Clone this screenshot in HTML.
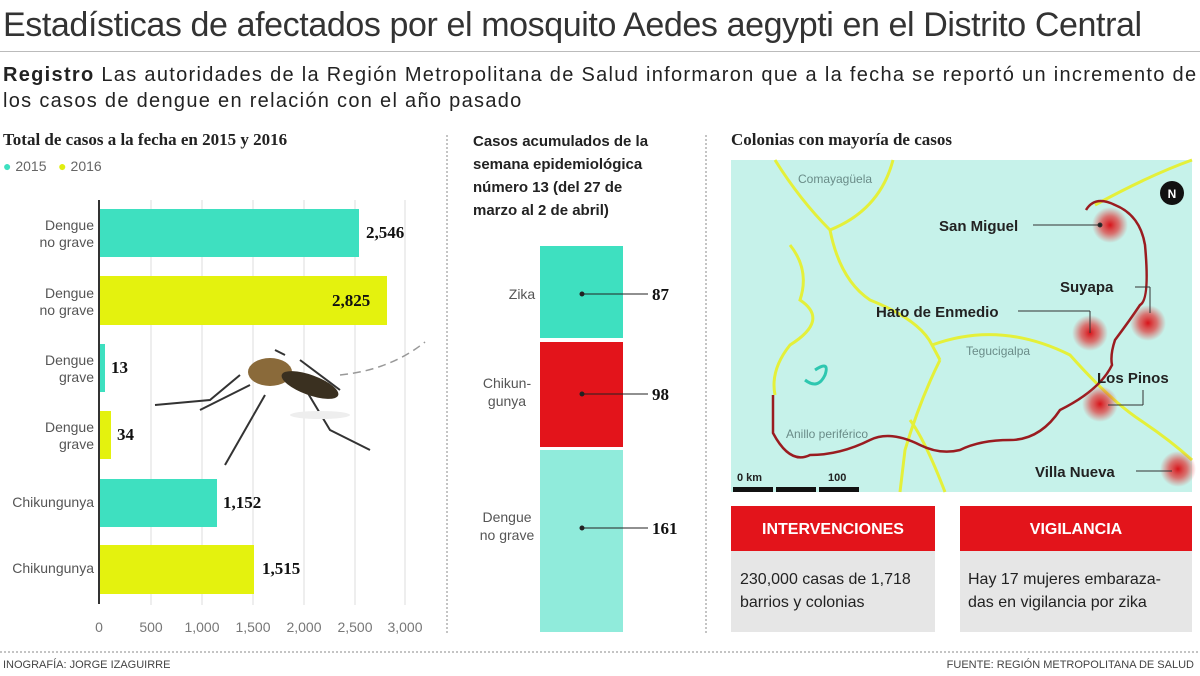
<!DOCTYPE html>
<html><head><meta charset="utf-8"><style>
body{margin:0;width:1200px;height:676px;background:#fff;font-family:"Liberation Sans",sans-serif;position:relative;overflow:hidden;color:#222}
.a{position:absolute}
.lbl{font-size:14px;color:#555;text-align:right;line-height:17px}
.val{font-family:"Liberation Serif",serif;font-weight:bold;font-size:17px;color:#111}
.hd{font-family:"Liberation Serif",serif;font-weight:bold;font-size:17px}
</style></head><body>
<div class="a" style="left:3px;top:6px;font-size:34px;color:#333;letter-spacing:-0.4px;white-space:nowrap">Estadísticas de afectados por el mosquito Aedes aegypti en el Distrito Central</div>
<div class="a" style="left:0;top:51px;width:1200px;border-top:1px solid #bbb"></div>
<div class="a" style="left:3px;top:62px;font-size:20px;line-height:26px;color:#222;white-space:nowrap;letter-spacing:1.3px"><b>Registro</b> Las autoridades de la Región Metropolitana de Salud informaron que a la fecha se reportó un incremento de<br>los casos de dengue en relación con el año pasado</div>
<div class="a hd" style="left:3px;top:130px">Total de casos a la fecha en 2015 y 2016</div>
<div class="a" style="left:3px;top:158px;font-size:14px;color:#666"><span style="color:#3ee0c0">●</span> 2015 &nbsp;&nbsp;<span style="color:#e0ee10">●</span> 2016</div>
<svg class="a" style="left:0;top:0" width="1200" height="676">
<g stroke="#ddd" stroke-width="1">
<line x1="151" y1="200" x2="151" y2="605"/><line x1="202" y1="200" x2="202" y2="605"/><line x1="253" y1="200" x2="253" y2="605"/><line x1="304" y1="200" x2="304" y2="605"/><line x1="355" y1="200" x2="355" y2="605"/><line x1="405" y1="200" x2="405" y2="605"/></g>
<rect x="99" y="209" width="260" height="48" fill="#3ee0c0"/>
<rect x="99" y="276" width="288" height="49" fill="#e4f20e"/>
<rect x="99" y="344" width="6" height="48" fill="#3ee0c0"/>
<rect x="99" y="411" width="12" height="48" fill="#e4f20e"/>
<rect x="99" y="479" width="118" height="48" fill="#3ee0c0"/>
<rect x="99" y="545" width="155" height="49" fill="#e4f20e"/>
<line x1="99" y1="200" x2="99" y2="604" stroke="#333" stroke-width="2"/>
<g font-size="14" fill="#777" text-anchor="middle" font-family="Liberation Sans"><text x="99" y="632">0</text><text x="151" y="632">500</text><text x="202" y="632">1,000</text><text x="253" y="632">1,500</text><text x="304" y="632">2,000</text><text x="355" y="632">2,500</text><text x="405" y="632">3,000</text></g>
<g stroke="#333" stroke-width="2" fill="none">
<path d="M240 375 L210 400 L155 405"/><path d="M250 385 L200 410"/><path d="M265 395 L225 465"/><path d="M300 380 L330 430 L370 450"/><path d="M285 355 L275 350"/><path d="M300 360 L340 390"/></g>
<path d="M340 375 Q390 370 425 342" stroke="#999" stroke-width="1.5" fill="none" stroke-dasharray="8 5"/>
<ellipse cx="270" cy="372" rx="22" ry="14" fill="#8a6a3a"/><ellipse cx="310" cy="385" rx="30" ry="10" fill="#3a3020" transform="rotate(20 310 385)"/>
<ellipse cx="320" cy="415" rx="30" ry="4" fill="#eee"/>
<line x1="447" y1="135" x2="447" y2="635" stroke="#888" stroke-dasharray="2 2"/>
<line x1="706" y1="135" x2="706" y2="635" stroke="#888" stroke-dasharray="2 2"/>
<line x1="0" y1="652" x2="1200" y2="652" stroke="#888" stroke-dasharray="2 2"/>
<rect x="540" y="246" width="83" height="92" fill="#3ee0c0"/>
<rect x="540" y="342" width="83" height="105" fill="#e3141b"/>
<rect x="540" y="450" width="83" height="182" fill="#90ebdb"/>
<g stroke="#222" stroke-width="1" fill="#222"><line x1="582" y1="294" x2="648" y2="294"/><circle cx="582" cy="294" r="2"/><line x1="582" y1="394" x2="648" y2="394"/><circle cx="582" cy="394" r="2"/><line x1="582" y1="528" x2="648" y2="528"/><circle cx="582" cy="528" r="2"/></g>
<g font-family="Liberation Serif" font-weight="bold" font-size="17" fill="#111"><text x="652" y="300">87</text><text x="652" y="400">98</text><text x="652" y="534">161</text></g>
<g font-size="14" fill="#555" text-anchor="middle" font-family="Liberation Sans"><text x="522" y="299">Zika</text><text x="507" y="388">Chikun-</text><text x="507" y="406">gunya</text><text x="507" y="522">Dengue</text><text x="507" y="540">no grave</text></g>
<rect x="731" y="160" width="461" height="332" fill="#c6f2ea"/>
<g stroke="#e4f03a" stroke-width="3" fill="none">
<path d="M775 160 Q800 200 830 230 Q840 280 870 300 Q920 320 932 345 L940 360"/>
<path d="M893 160 Q880 210 830 230"/>
<path d="M790 245 Q810 270 800 300 Q830 320 790 345 Q770 370 775 395"/>
<path d="M932 345 Q1000 320 1070 355 Q1110 400 1140 420 Q1170 440 1192 460"/>
<path d="M940 360 Q920 400 905 450 L900 492"/>
<path d="M1095 205 Q1150 175 1192 160"/>
<path d="M910 420 Q925 440 945 492"/></g>
<path d="M815 370 Q830 360 825 375 Q818 390 805 380" stroke="#2ec7b0" stroke-width="3" fill="none"/>
<path d="M1086 210 Q1095 195 1115 205 Q1140 215 1145 245 Q1150 300 1140 305 Q1130 320 1115 340 Q1110 355 1112 365 Q1100 390 1060 410 Q1040 440 1010 440 Q980 440 960 450 Q940 455 920 445 Q890 430 870 440 Q840 455 810 455 Q790 465 773 433 L773 395" stroke="#9a1c20" stroke-width="2.5" fill="none"/>
<defs><radialGradient id="g"><stop offset="0" stop-color="#d8141a"/><stop offset="0.5" stop-color="#e03a3a" stop-opacity="0.7"/><stop offset="1" stop-color="#e04a4a" stop-opacity="0"/></radialGradient></defs>
<g fill="url(#g)"><circle cx="1110" cy="225" r="18"/><circle cx="1148" cy="323" r="18"/><circle cx="1090" cy="333" r="18"/><circle cx="1100" cy="404" r="18"/><circle cx="1178" cy="469" r="18"/></g>
<g stroke="#333" stroke-width="1" fill="#222"><line x1="1033" y1="225" x2="1100" y2="225"/><circle cx="1100" cy="225" r="2"/><line x1="1135" y1="287" x2="1150" y2="287"/><line x1="1150" y1="287" x2="1150" y2="313"/><line x1="1018" y1="311" x2="1090" y2="311"/><line x1="1090" y1="311" x2="1090" y2="333"/><line x1="1108" y1="405" x2="1143" y2="405"/><line x1="1143" y1="390" x2="1143" y2="405"/><line x1="1136" y1="471" x2="1172" y2="471"/></g>
<g font-size="15" font-weight="bold" fill="#222" font-family="Liberation Sans"><text x="939" y="231">San Miguel</text><text x="1060" y="292">Suyapa</text><text x="876" y="317">Hato de Enmedio</text><text x="1097" y="383">Los Pinos</text><text x="1035" y="477">Villa Nueva</text></g>
<g font-size="12" fill="#6a8c88" font-family="Liberation Sans"><text x="798" y="183">Comayagüela</text><text x="966" y="355">Tegucigalpa</text><text x="786" y="438">Anillo periférico</text></g>
<circle cx="1172" cy="193" r="12" fill="#111"/><text x="1172" y="198" font-size="12" font-weight="bold" fill="#fff" text-anchor="middle">N</text>
<text x="737" y="481" font-size="11" font-weight="bold" fill="#222">0 km</text><text x="828" y="481" font-size="11" font-weight="bold" fill="#222">100</text>
<rect x="733" y="487" width="40" height="5" fill="#111"/><rect x="776" y="487" width="40" height="5" fill="#111"/><rect x="819" y="487" width="40" height="5" fill="#111"/>
<rect x="731" y="506" width="204" height="45" fill="#e3141b"/><rect x="731" y="551" width="204" height="81" fill="#e6e6e6"/>
<rect x="960" y="506" width="232" height="45" fill="#e3141b"/><rect x="960" y="551" width="232" height="81" fill="#e6e6e6"/>
<g font-size="16" font-weight="bold" fill="#fff" text-anchor="middle" font-family="Liberation Sans"><text x="833" y="534">INTERVENCIONES</text><text x="1076" y="534">VIGILANCIA</text></g>
<g font-size="16" fill="#222" font-family="Liberation Sans"><text x="740" y="584">230,000 casas de 1,718</text><text x="740" y="607">barrios y colonias</text><text x="968" y="584">Hay 17 mujeres embaraza-</text><text x="968" y="607">das en vigilancia por zika</text></g>
</svg>
<div class="a lbl" style="left:0;top:217px;width:94px">Dengue<br>no grave</div>
<div class="a lbl" style="left:0;top:285px;width:94px">Dengue<br>no grave</div>
<div class="a lbl" style="left:0;top:352px;width:94px">Dengue<br>grave</div>
<div class="a lbl" style="left:0;top:419px;width:94px">Dengue<br>grave</div>
<div class="a lbl" style="left:0;top:494px;width:94px">Chikungunya</div>
<div class="a lbl" style="left:0;top:560px;width:94px">Chikungunya</div>
<div class="a val" style="left:366px;top:223px">2,546</div>
<div class="a val" style="left:332px;top:291px">2,825</div>
<div class="a val" style="left:111px;top:358px">13</div>
<div class="a val" style="left:117px;top:425px">34</div>
<div class="a val" style="left:223px;top:493px">1,152</div>
<div class="a val" style="left:262px;top:559px">1,515</div>
<div class="a" style="left:473px;top:130px;font-size:15px;line-height:23px;font-weight:bold;color:#222">Casos acumulados de la<br>semana epidemiológica<br>número 13 (del 27 de<br>marzo al 2 de abril)</div>
<div class="a hd" style="left:731px;top:130px">Colonias con mayoría de casos</div>
<div class="a" style="left:3px;top:659px;font-size:11px;color:#444">INOGRAFÍA: JORGE IZAGUIRRE</div>
<div class="a" style="right:6px;top:659px;font-size:11px;color:#444">FUENTE: REGIÓN METROPOLITANA DE SALUD</div>
</body></html>
